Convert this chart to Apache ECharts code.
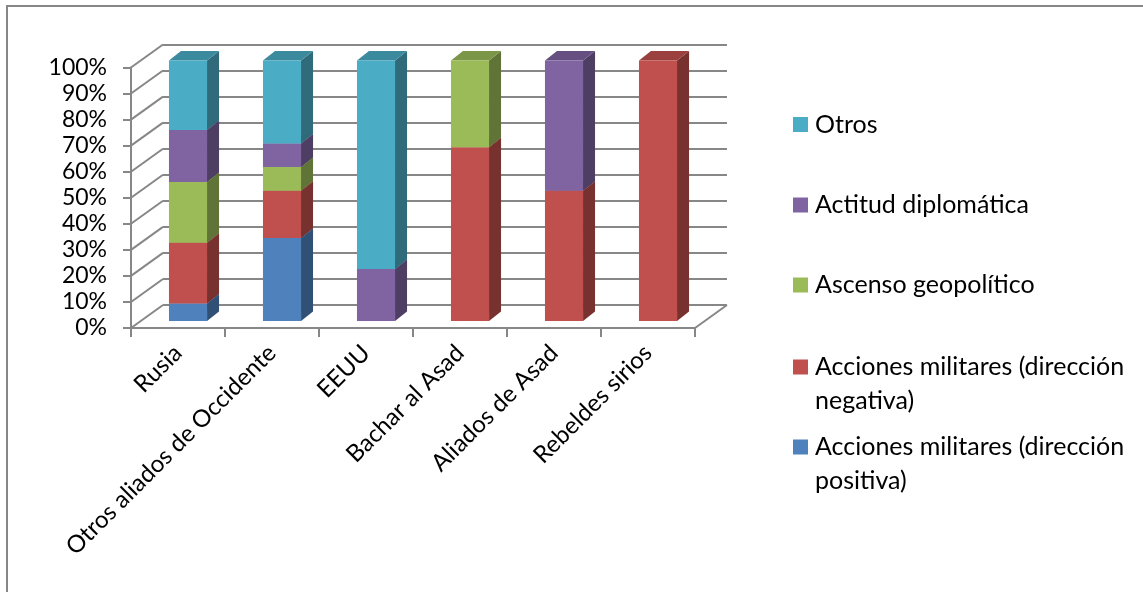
<!DOCTYPE html>
<html><head><meta charset="utf-8">
<script src="https://cdn.jsdelivr.net/npm/echarts@6/dist/echarts.min.js"></script>
<style>html,body{margin:0;padding:0;background:#fff}#c{width:1143px;height:592px}</style>
</head><body><div id="c"></div>
<script>
// ---- data ----
const categories = ['Rusia', 'Otros aliados de Occidente', 'EEUU', 'Bachar al Asad', 'Aliados de Asad', 'Rebeldes sirios'];
const yTickValues = [0, 10, 20, 30, 40, 50, 60, 70, 80, 90, 100];
const accionesPositiva = [6.67, 31.82, 0, 0, 0, 0];
const accionesNegativa = [23.33, 18.18, 0, 66.67, 50, 100];
const ascensoGeopolitico = [23.33, 9.09, 0, 33.33, 0, 0];
const actitudDiplomatica = [20, 9.09, 20, 0, 50, 0];
const otros = [26.67, 31.82, 80, 0, 0, 0];
const seriesNames = ['Acciones militares (dirección positiva)', 'Acciones militares (dirección negativa)', 'Ascenso geopolítico', 'Actitud diplomática', 'Otros'];
const seriesValues = [accionesPositiva, accionesNegativa, ascensoGeopolitico, actitudDiplomatica, otros];
const legendOrder = ['Otros', 'Actitud diplomática', 'Ascenso geopolítico', 'Acciones militares (dirección negativa)', 'Acciones militares (dirección positiva)'];

// ---- style ----
const colors = ['#4F81BD', '#C0504D', '#9BBB59', '#8064A2', '#4BACC6'];
const AX = '#878787';
const FONT = 'Lato';
const G0 = {left: 131, top: 67.5, width: 564, height: 260.5};
const WALL = [32, -23];
const FRONT = [10, -7];
const DEPTH = [12, -9.5];
const legendFirstLineY = [124.5, 205, 285, 366.5, 446.5];

function shade(hex, k) {
  const n = parseInt(hex.slice(1), 16);
  const r = Math.round(((n >> 16) & 255) * k), g = Math.round(((n >> 8) & 255) * k), b = Math.round((n & 255) * k);
  return 'rgb(' + r + ',' + g + ',' + b + ')';
}

function makeBarRender(color) {
  const side = shade(color, 0.62), top = shade(color, 0.8);
  return function (params, api) {
    const i = api.value(0), b = api.value(1), t = api.value(2);
    if (!(t > b)) return null;
    const pb = api.coord([i, b]), pt = api.coord([i, t]);
    const w = api.size([1, 0])[0] * 0.405;
    const x0 = pb[0] + FRONT[0] - w / 2, x1 = x0 + w;
    const yb = pb[1] + FRONT[1], yt = pt[1] + FRONT[1];
    return {
      type: 'group',
      children: [
        {type: 'polygon', shape: {points: [[x1, yb], [x1 + DEPTH[0], yb + DEPTH[1]], [x1 + DEPTH[0], yt + DEPTH[1]], [x1, yt]]}, style: {fill: side}},
        {type: 'polygon', shape: {points: [[x0, yt], [x1, yt], [x1 + DEPTH[0], yt + DEPTH[1]], [x0 + DEPTH[0], yt + DEPTH[1]]]}, style: {fill: top}},
        {type: 'rect', shape: {x: x0, y: yt, width: w, height: yb - yt}, style: {fill: color}}
      ]
    };
  };
}

// stacked bases
const base = categories.map(() => 0);
const barSeries = seriesValues.map((vals, s) => {
  const data = vals.map((v, i) => {
    const d = [i, base[i], base[i] + v];
    base[i] += v;
    return d;
  });
  return {
    type: 'custom', name: seriesNames[s], xAxisIndex: 0, yAxisIndex: 0,
    renderItem: makeBarRender(colors[s]), data: data,
    encode: {x: 0, y: 2}, itemStyle: {color: colors[s]}, z: 3, silent: true
  };
});

const wallSeries = {
  type: 'custom', xAxisIndex: 0, yAxisIndex: 0, z: 1, silent: true,
  data: yTickValues.map(v => [0, v]),
  encode: {x: 0, y: 1},
  renderItem: function (params, api) {
    const v = api.value(1);
    const p = api.coord([0, v]);
    const bw = api.size([1, 0])[0];
    const x = p[0] - bw / 2;
    const ch = [{type: 'line', shape: {x1: x, y1: p[1], x2: x + WALL[0], y2: p[1] + WALL[1]}, style: {stroke: AX, lineWidth: 2}}];
    if (v === 0) {
      const xr = api.coord([categories.length - 1, 0])[0] + bw / 2;
      ch.push({type: 'line', shape: {x1: xr, y1: p[1], x2: xr + WALL[0], y2: p[1] + WALL[1]}, style: {stroke: AX, lineWidth: 2}});
    }
    return {type: 'group', children: ch};
  }
};

const legends = legendOrder.map((name, k) => {
  const s = seriesNames.indexOf(name);
  const two = name.indexOf('(dirección ') >= 0;
  return {
    left: 793, top: legendFirstLineY[k] - 17, padding: 0, orient: 'vertical', selectedMode: false,
    itemWidth: 15, itemHeight: two ? 48 : 15,
    data: [{name: name, icon: two ? 'path://M0,0H15V15H0Z M0,48H15' : 'rect', itemStyle: {color: colors[s], borderWidth: 0}}],
    formatter: n => n.replace('(dirección ', '(dirección\n'),
    textStyle: {fontFamily: FONT, fontSize: 25, lineHeight: 34, color: '#000', padding: [0, 0, 0, 2]}
  };
});

const option = {
  backgroundColor: '#fff',
  animation: false,
  graphic: [{type: 'rect', shape: {x: 7, y: 6, width: 1300, height: 800}, style: {fill: 'none', stroke: AX, lineWidth: 2}, silent: true}],
  legend: legends,
  grid: [
    {left: G0.left, top: G0.top, width: G0.width, height: G0.height},
    {left: G0.left + WALL[0], top: G0.top + WALL[1], width: G0.width, height: G0.height}
  ],
  xAxis: [
    {type: 'category', gridIndex: 0, data: categories, boundaryGap: true,
     axisLine: {lineStyle: {color: AX, width: 2}},
     axisTick: {show: true, length: 9, lineStyle: {color: AX, width: 2}, alignWithLabel: false},
     axisLabel: {rotate: 45, interval: 0, margin: 21, fontFamily: FONT, fontSize: 24, color: '#000'}},
    {type: 'category', gridIndex: 1, data: categories, show: false}
  ],
  yAxis: [
    {type: 'value', gridIndex: 0, min: 0, max: 100, interval: 10,
     axisLine: {show: true, lineStyle: {color: AX, width: 2}},
     axisTick: {show: true, length: 8, lineStyle: {color: AX, width: 2}},
     splitLine: {show: false},
     axisLabel: {formatter: '{value}%', margin: 24, fontFamily: FONT, fontSize: 23, color: '#000', padding: [3, 0, 0, 0]}},
    {type: 'value', gridIndex: 1, min: 0, max: 100, interval: 10,
     axisLine: {show: false}, axisTick: {show: false}, axisLabel: {show: false},
     splitLine: {show: true, lineStyle: {color: AX, width: 2}}}
  ],
  series: [wallSeries].concat(barSeries)
};

const chart = echarts.init(document.getElementById('c'), null, {renderer: 'canvas'});
chart.setOption(option);
</script>
</body></html>
